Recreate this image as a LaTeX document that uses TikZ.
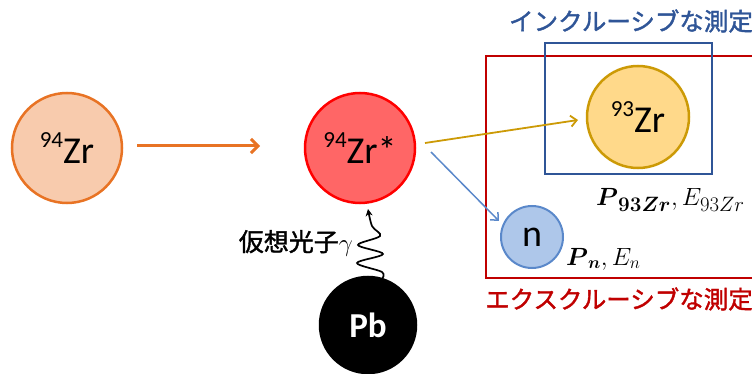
\documentclass[tikz,border=0pt]{standalone}
\usepackage{amsmath}
\usepackage{fontspec}
\setmainfont{Carlito}
\newfontfamily\jpfont{Noto Sans CJK JP}[FakeBold=1.5]
\usetikzlibrary{arrows.meta}
\definecolor{zrfill}{HTML}{F8CBAD}
\definecolor{zrdraw}{HTML}{E87324}
\definecolor{exfill}{HTML}{FF6666}
\definecolor{exdraw}{HTML}{FF0000}
\definecolor{tzfill}{HTML}{FFD98A}
\definecolor{tzdraw}{HTML}{CC9A06}
\definecolor{nfill}{HTML}{AEC7EA}
\definecolor{ndraw}{HTML}{5A88CA}
\definecolor{inblue}{HTML}{2F5597}
\definecolor{exred}{HTML}{C00000}
\newcommand\isotope[2]{\raisebox{0.42em}{\fontsize{23}{23}\selectfont #1}#2}
\begin{document}
\begin{tikzpicture}[x=1pt,y=-1pt,
  ball/.style={circle,draw,line width=2.5pt,inner sep=0pt,align=center},
  bigtext/.style={font=\fontsize{38}{40}\selectfont},
  jptitle/.style={font=\jpfont\fontsize{24.5}{26}\selectfont}]
\useasboundingbox (0,0) rectangle (752,374);
% boxes
\draw[exred,line width=2pt] (486,56) rectangle (760,278);
\draw[inblue,line width=2pt] (545,43) rectangle (712,174);
% balls
\node[ball,fill=zrfill,draw=zrdraw,minimum size=110pt,bigtext] (zr) at (67,148) {\isotope{94}{Zr}};
\node[ball,fill=exfill,draw=exdraw,minimum size=110pt,bigtext] (zrs) at (360,148) {\isotope{94}{Zr*}};
\node[ball,fill=tzfill,draw=tzdraw,minimum size=102pt,bigtext] (tz) at (638,117) {\isotope{93}{Zr}};
\node[ball,fill=nfill,draw=ndraw,minimum size=62pt,line width=2pt,font=\fontsize{38}{40}\selectfont] (n) at (532,237) {n};
\node[ball,fill=black,draw=black,minimum size=96pt,text=white,font=\bfseries\fontsize{35}{37}\selectfont] (pb) at (368,325) {Pb};
% titles
\node[jptitle,text=inblue] (tin) at (631,21) {インクルーシブな測定};
\node[jptitle,text=exred] (tex) at (619,299) {エクスクルーシブな測定};
% labels
\node[anchor=west,inner sep=0pt,font=\fontsize{28}{30}\selectfont] (ptz) at (596,200) {$\boldsymbol{P}_{\boldsymbol{93Zr}},E_{93Zr}$};
\node[anchor=west,inner sep=0pt,font=\fontsize{24}{26}\selectfont] (pn) at (566,259) {$\boldsymbol{P}_{\boldsymbol{n}},E_{n}$};
% arrows
\coordinate (oa) at (137,146);
\coordinate (ob) at (260,146);
\draw[zrdraw,line width=3pt,-{Straight Barb[length=7pt,width=14pt]}] (oa) -- (ob);
\coordinate (ga) at (425,143);
\coordinate (gb) at (578,120);
\draw[tzdraw,line width=1.8pt,-{Straight Barb[length=6pt,width=11pt]}] (ga) -- (gb);
\coordinate (ba) at (431,152);
\coordinate (bb) at (499,221);
\draw[ndraw,line width=1.5pt,-{Straight Barb[length=6pt,width=11pt]}] (ba) -- (bb);
% photon
\coordinate (wa) at (382,279);
\coordinate (wb) at (368,209);
\draw[line width=1.7pt,-{Stealth[length=7pt,width=7pt]}] plot[smooth,tension=0.55] coordinates {(wa) (382,272) (357,263) (383,254) (358,245) (380,236) (372,226) (wb)};
\node[anchor=east,inner sep=0pt,font=\jpfont\fontsize{25}{27}\selectfont] (vp) at (353,243) {仮想光子$\gamma$};
\end{tikzpicture}
\end{document}
